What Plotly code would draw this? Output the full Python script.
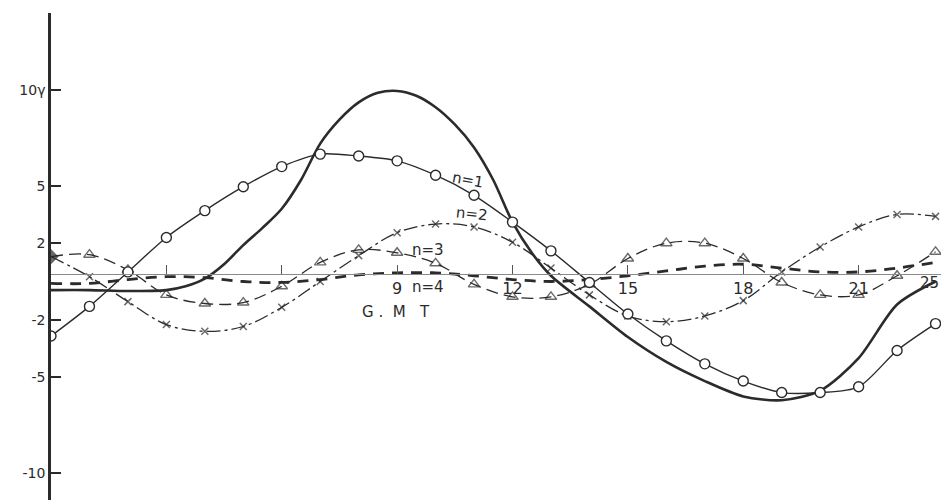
import plotly.graph_objects as go

hours = list(range(24))
# n=1 component (open circles)
n1 = [-2.85, -1.3, 0.5, 2.3, 3.7, 4.95, 6.0, 6.65, 6.55, 6.3, 5.55, 4.5,
      3.1, 1.6, -0.05, -1.7, -3.1, -4.3, -5.2, -5.8, -5.8, -5.5, -3.6, -2.2]
# observed / total variation (heavy line), read every half hour where it is steep
total_hours = [0, 1, 2, 3, 3.5, 4, 4.5, 5, 5.5, 6, 6.5, 7, 7.5, 8, 8.5, 9, 9.5,
               10, 10.5, 11, 11.5, 12, 12.5, 13, 14, 15, 16, 17, 18, 19, 20,
               21, 22, 23]
total = [-0.45, -0.45, -0.5, -0.45, -0.25, 0.15, 0.9, 1.9, 2.8, 3.8, 5.3, 7.2,
         8.45, 9.35, 9.85, 9.95, 9.7, 9.1, 8.2, 7.0, 5.3, 3.1, 1.5, 0.3, -1.3,
         -2.9, -4.2, -5.2, -6.0, -6.2, -5.7, -4.0, -1.2, 0.0]
# n=2 component (crosses)
n2 = [1.3, 0.25, -1.05, -2.25, -2.6, -2.35, -1.35, 0.0, 1.35, 2.55, 3.0, 2.85,
      2.05, 0.7, -0.7, -1.8, -2.1, -1.8, -1.0, 0.5, 1.8, 2.85, 3.5, 3.4]
# n=3 component (triangles)
n3 = [1.3, 1.4, 0.6, -0.7, -1.15, -1.1, -0.25, 1.0, 1.65, 1.5, 0.95, -0.15,
      -0.8, -0.8, -0.15, 1.2, 2.0, 2.0, 1.2, -0.05, -0.7, -0.7, 0.3, 1.55]
# n=4 component (heavy dashes)
n4 = [-0.1, -0.1, 0.1, 0.25, 0.2, 0.0, -0.05, 0.1, 0.35, 0.45, 0.45, 0.3,
      0.1, 0.0, 0.1, 0.3, 0.55, 0.8, 0.9, 0.7, 0.5, 0.5, 0.7, 1.0]

x_tickvals = [3, 6, 9, 12, 15, 18, 21]
x_ticktext = ["", "", "9", "12", "15", "18", "21"]
y_tickvals = [10, 5, 2, -2, -5, -10]
y_ticktext = ["10γ", "5", "2", "-2", "-5", "-10"]

ink = "#2b2b2b"
FONT = "DejaVu Sans"

fig = go.Figure()

fig.add_trace(go.Scatter(
    x=hours, y=n4, mode="lines",
    line=dict(color=ink, width=2.8, dash="11px,8px", shape="spline", smoothing=1.0),
    showlegend=False))

fig.add_trace(go.Scatter(
    x=hours, y=n3, mode="lines+markers",
    line=dict(color=ink, width=1.3, dash="12px,6px", shape="spline", smoothing=1.0),
    marker=dict(symbol="triangle-up-open", size=[0] + [10] * 23, color=ink,
                line=dict(width=1.4, color=ink)),
    showlegend=False))

fig.add_trace(go.Scatter(
    x=hours, y=n2, mode="lines+markers",
    line=dict(color=ink, width=1.3, dash="14px,4px,3px,4px", shape="spline", smoothing=1.0),
    marker=dict(symbol=["diamond"] + ["x-thin-open"] * 23, size=[10] + [7] * 23,
                color=ink, line=dict(width=1.5, color=ink)),
    showlegend=False))

fig.add_trace(go.Scatter(
    x=total_hours, y=total, mode="lines",
    line=dict(color=ink, width=2.6, shape="spline", smoothing=0.8),
    showlegend=False))

fig.add_trace(go.Scatter(
    x=hours, y=n1, mode="lines+markers",
    line=dict(color=ink, width=1.4, shape="spline", smoothing=0.8),
    marker=dict(symbol="circle", size=10, color="white",
                line=dict(width=1.4, color=ink)),
    showlegend=False))

ann_font = dict(family=FONT, size=15, color=ink)
labels = [
    ("n=1", 10.85, 5.3, 10),
    ("n=2", 10.95, 3.5, 6),
    ("n=3", 9.8, 1.65, 0),
    ("n=4", 9.8, -0.3, 0),
    ("G .  M   T", 8.97, -1.6, 0),
    ("25", 22.85, -0.1, 0),
]
for txt, ax_, ay_, ang in labels:
    fig.add_annotation(x=ax_, y=ay_, text=txt, showarrow=False,
                       font=ann_font, textangle=ang, xref="x", yref="y")

# the page body keeps an 8px margin, so the figure is 8px smaller than the window
fig.update_layout(
    width=941, height=492,
    margin=dict(l=43, r=0, t=5, b=0),
    paper_bgcolor="white", plot_bgcolor="white",
    xaxis=dict(range=[0, 23.35], showgrid=False, zeroline=False,
               anchor="free", position=0.464, showline=True,
               linecolor="#8a8a8a", linewidth=1,
               ticks="inside", ticklen=9, tickwidth=1, tickcolor="#555",
               tickvals=x_tickvals, ticktext=x_ticktext,
               tickfont=dict(family=FONT, size=16, color=ink),
               automargin=False),
    yaxis=dict(range=[-11.41, 14.02], showgrid=False, zeroline=False,
               showline=True, linecolor=ink, linewidth=2.5,
               ticks="inside", ticklen=10, tickwidth=2, tickcolor=ink,
               tickvals=y_tickvals, ticktext=y_ticktext,
               tickfont=dict(family=FONT, size=14, color=ink),
               automargin=False),
)

fig.write_html("out.html")
